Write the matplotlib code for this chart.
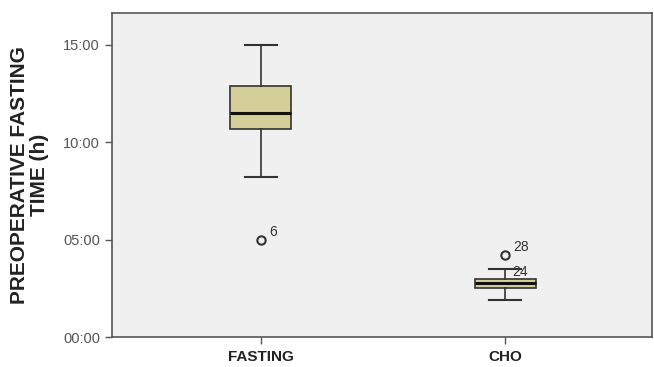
import matplotlib.pyplot as plt
import numpy as np

plt.rcParams['font.family'] = ['Liberation Sans', 'DejaVu Sans']

groups = ['FASTING', 'CHO']
q1 = [10.67, 2.52]
med = [11.5, 2.8]
q3 = [12.9, 3.0]
whis_lo = [8.25, 1.92]
whis_hi = [15.0, 3.5]
outliers = [[5.0], [4.22]]
outlier_ids = [['6'], ['28']]
extra_label = ('24', 2, 3.5)   # case label drawn on the upper whisker of CHO

yticks = [0, 5, 10, 15]
ytick_labels = ['00:00', '05:00', '10:00', '15:00']

fig = plt.figure(figsize=(6.54, 3.67), dpi=100)
ax = fig.add_axes([0.171, 0.081, 0.826, 0.884])
ax.set_facecolor('#f0f0f0')

stats = []
for i in range(len(groups)):
    stats.append({'med': med[i], 'q1': q1[i], 'q3': q3[i],
                  'whislo': whis_lo[i], 'whishi': whis_hi[i],
                  'fliers': outliers[i], 'label': groups[i]})

pos = np.arange(1, len(groups) + 1)
ax.bxp(stats, positions=pos, widths=0.25, patch_artist=True,
       boxprops=dict(facecolor='#d4cf98', edgecolor='#333333', linewidth=1.2),
       medianprops=dict(color='#111111', linewidth=2.2),
       whiskerprops=dict(color='#333333', linewidth=1.2),
       capprops=dict(color='#333333', linewidth=1.5),
       capwidths=0.13,
       flierprops=dict(marker='o', markerfacecolor='none', markeredgecolor='#333333',
                       markersize=6, markeredgewidth=1.5))

for i, p in enumerate(pos):
    for v, lab in zip(outliers[i], outlier_ids[i]):
        ax.annotate(lab, (p, v), xytext=(6, 3), textcoords='offset points',
                    fontsize=10, color='#333333')
ax.annotate(extra_label[0], (extra_label[1], extra_label[2]), xytext=(5, -5),
            textcoords='offset points', fontsize=10, color='#333333')

ax.set_xlim(0.39, 2.6)
ax.set_ylim(0, 16.65)
ax.set_yticks(yticks)
ax.set_yticklabels(ytick_labels, color='#555555', fontsize=10.5)
ax.set_xticks(pos)
ax.set_xticklabels(groups, fontweight='bold', fontsize=11, color='#222222')
ax.tick_params(axis='both', direction='out', length=5, width=1, color='#555555')
ax.tick_params(axis='x', pad=4)
for s in ax.spines.values():
    s.set_color('#555555')
    s.set_linewidth(1.2)

ax.set_ylabel('PREOPERATIVE FASTING\nTIME (h)', fontweight='bold', fontsize=15,
              color='#222222', labelpad=10, linespacing=1.1)

fig.savefig('out.png', dpi=100)
